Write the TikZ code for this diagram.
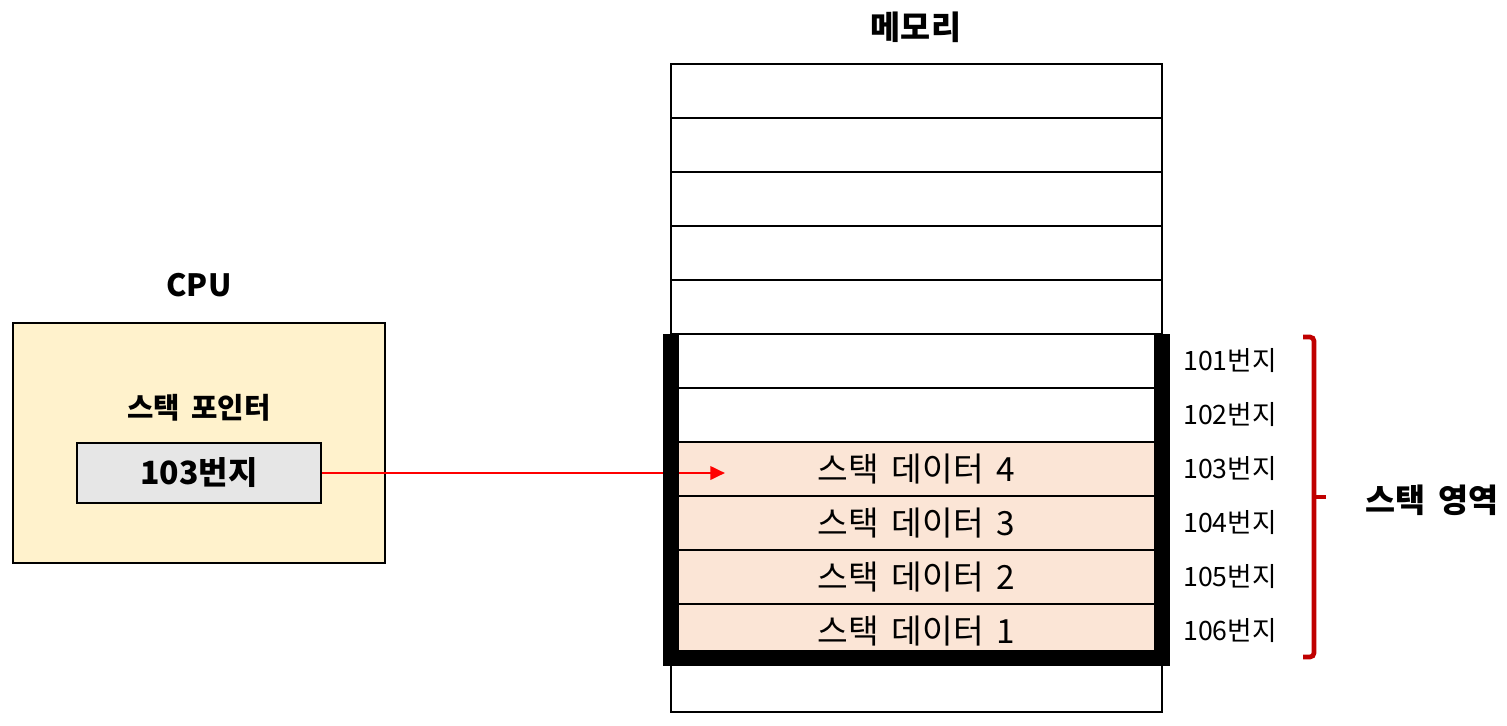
\documentclass[tikz,border=0pt]{standalone}
\usepackage{fontspec}
\setmainfont{Noto Sans CJK KR}[WordSpace=1.7]
\usetikzlibrary{arrows.meta,positioning}

\definecolor{cpuyellow}{HTML}{FFF2CC}
\definecolor{reggrey}{HTML}{E6E6E6}
\definecolor{stackpeach}{HTML}{FBE5D6}
\definecolor{bracered}{HTML}{C00000}

\begin{document}
\begin{tikzpicture}[x=0.75pt,y=0.75pt,yscale=-1,xscale=1,
  cell/.style={draw, line width=1.5pt, minimum width=368.25pt, minimum height=40.5pt, inner sep=0pt, outer sep=0pt},
  stackcell/.style={fill=stackpeach, font=\fontsize{25}{29}\selectfont},
  addr/.style={inner sep=0.75pt, font=\fontsize{20}{24}\selectfont},
  title/.style={inner sep=0.75pt, font=\fontsize{24.5}{29}\bfseries\selectfont},
  ptrarrow/.style={draw=red, line width=2pt, -{Triangle[length=11pt,width=10pt]}},
  stackbrace/.style={draw=bracered, line width=3.5pt, rounded corners=3pt}]
\useasboundingbox (0,0) rectangle (1507,725);

%CPU box
\node [draw, line width=1.5pt, fill=cpuyellow, minimum width=279pt, minimum height=180pt] (cpu) at (199,443) {};
\node [title, font=\fontsize{23}{27}\bfseries\selectfont] (cputitle) at (199,285) {CPU};
% Text Node
\node [inner sep=0.75pt, font=\fontsize{21.5}{26}\bfseries\selectfont] (splabel) at (199,408) {스택 포인터};
%register
\node [draw, line width=1.5pt, fill=reggrey, minimum width=183pt, minimum height=45pt, font=\fontsize{24}{28}\bfseries\selectfont] (reg) at (199,473) {103번지};

%memory
\node [title] (memtitle) at (916,27) {메모리};
\foreach \i in {1,2,3,4,5,6,7,12}
  \node [cell] (m\i) at (916.5,{91+54*(\i-1)}) {};
\foreach \i in {8,...,11} {
  \pgfmathtruncatemacro\cellno{12-\i}
  \node [cell, stackcell] (m\i) at (916.5,{91+54*(\i-1)}) {스택 데이터 \cellno};
}

%pointer
\coordinate (ptr) at (725,473);
\draw [ptrarrow] (reg.east) -- (ptr);

%stack walls
\draw [line width=12pt] (m6.north west) -- (m11.south west) -- (m11.south east) -- (m6.north east);

%addresses
\foreach \i in {6,...,11} {
  \pgfmathtruncatemacro\addrno{95+\i}
  \node [addr, right=15pt of m\i] (a\i) {\addrno{}번지};
}

%stack area
\coordinate (btop) at (1303,337);
\coordinate (bbot) at (1303,657);
\coordinate (btip) at (1326,497);
\draw [stackbrace] (btop) -- ++(11,0) -- ++(0,320) -- (bbot);
\draw [stackbrace] (btip) -- ++(-12,0);
\node [title] (stacklabel) at (1432,500) {스택 영역};

\end{tikzpicture}
\end{document}
